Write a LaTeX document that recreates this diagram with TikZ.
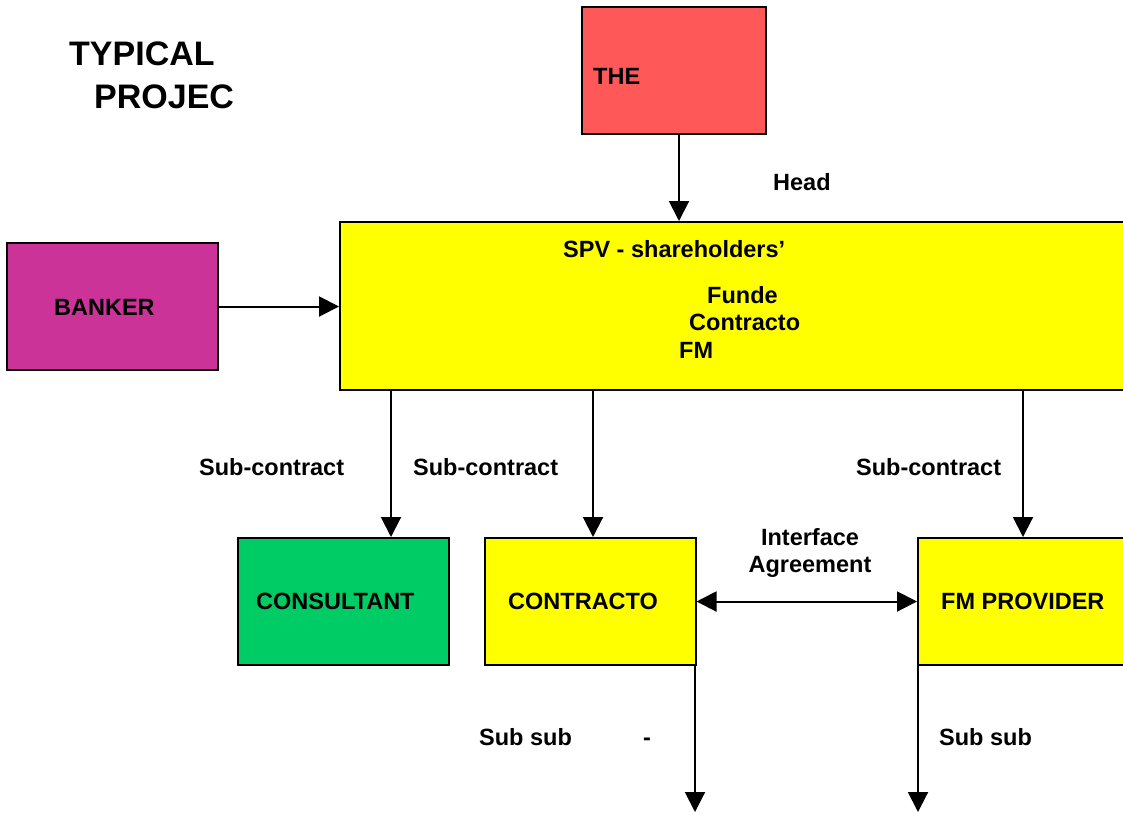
\documentclass[tikz,border=0pt]{standalone}
\usepackage{fontspec}
\setmainfont{Liberation Sans}
\usetikzlibrary{arrows.meta,calc}
\definecolor{ownerred}{HTML}{FF5858}
\definecolor{bankmag}{HTML}{CC3399}
\definecolor{consgreen}{HTML}{00CC66}
\definecolor{spvyel}{HTML}{FFFF00}
\begin{document}
\begin{tikzpicture}[
  x=1pt, y=-1pt,
  box/.style={draw, line width=2pt, inner sep=0pt, minimum width=211, minimum height=127},
  lbl/.style={anchor=base west, inner sep=0pt, font=\bfseries\fontsize{23.5}{27}\selectfont},
  ttl/.style={anchor=base west, inner sep=0pt, font=\bfseries\fontsize{34}{40}\selectfont},
  arr/.style={line width=2pt, -{Triangle[length=20pt,width=20pt]}},
  biarr/.style={line width=2pt, {Triangle[length=20pt,width=20pt]}-{Triangle[length=20pt,width=20pt]}}
]
\useasboundingbox (0,0) rectangle (1123,812);
\clip (0,0) rectangle (1123,812);
% title
\node[ttl] (title1) at (69,65) {TYPICAL};
\node[ttl] (title2) at (94,108) {PROJEC};
% boxes
\node[box, fill=ownerred, minimum width=184] (owner) at (674,70) {};
\node[box, fill=spvyel, minimum width=800, minimum height=168] (spv) at (740,306) {};
\node[box, fill=bankmag] (banker) at (112.5,306.5) {};
\node[box, fill=consgreen] (consult) at (343.5,601.5) {};
\node[box, fill=spvyel] (contr) at (590,601.5) {};
\node[box, fill=spvyel, minimum width=222] (fmp) at (1029,601.5) {};
% box texts
\node[lbl] (ownerT) at (593,84.5) {THE};
\node[lbl] (spvT) at (563,257.5) {SPV - shareholders’};
\node[lbl] (fundT) at (707,303.5) {Funde};
\node[lbl] (contrT) at (689,330.5) {Contracto};
\node[lbl] (fmT) at (679,358.5) {FM};
\node[lbl] (bankerT) at (54,315.5) {BANKER};
\node[lbl] (consultT) at (256,609.5) {CONSULTANT};
\node[lbl] (contrBT) at (508,609.5) {CONTRACTO};
\node[lbl] (fmpT) at (941,609.5) {FM PROVIDER};
% arrow positions
\coordinate (xHead) at (679,0);
\coordinate (xCons) at (391,0);
\coordinate (xContr) at (593,0);
\coordinate (xFm) at (1023,0);
\coordinate (endA) at (695,812);
\coordinate (endB) at (918,812);
% connectors
\draw[arr] (owner.south -| xHead) -- (spv.north -| xHead);
\draw[arr] (banker.east) -- (banker.east -| spv.west);
\draw[arr] (spv.south -| xCons) -- (consult.north -| xCons);
\draw[arr] (spv.south -| xContr) -- (contr.north -| xContr);
\draw[arr] (spv.south -| xFm) -- (fmp.north -| xFm);
\draw[biarr] (contr.east) -- (fmp.west);
\draw[arr] (contr.south -| endA) -- (endA);
\draw[arr] (fmp.south -| endB) -- (endB);
% connector labels
\node[lbl] (headL) at (773,190.5) {Head};
\node[lbl] (subL1) at (199,475.5) {Sub-contract};
\node[lbl] (subL2) at (413,475.5) {Sub-contract};
\node[lbl] (subL3) at (856,475.5) {Sub-contract};
\node[lbl, anchor=base, align=center] (ifaceL) at (810,572) {Interface\\Agreement};
\node[lbl] (subsubA) at (479,745.5) {Sub sub};
\node[lbl] (dashA) at (643,745.5) {-};
\node[lbl] (subsubB) at (939,745.5) {Sub sub};
\end{tikzpicture}
\end{document}
